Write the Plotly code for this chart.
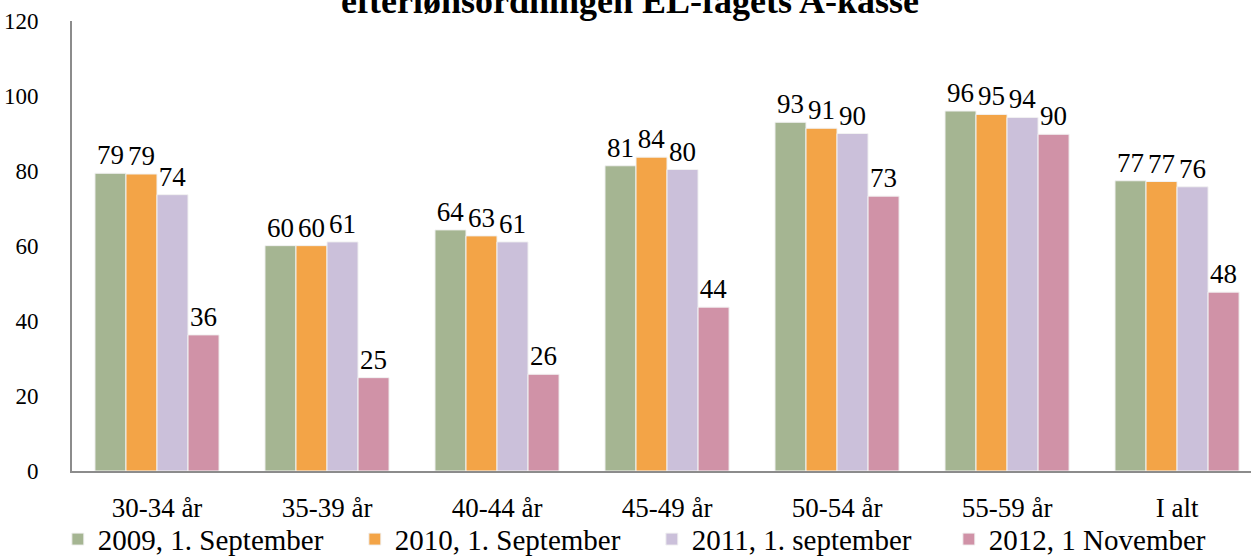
import plotly.graph_objects as go

categories = ["30-34 år", "35-39 år", "40-44 år", "45-49 år", "50-54 år", "55-59 år", "I alt"]
series_names = ["2009, 1. September", "2010, 1. September", "2011, 1. september", "2012, 1 November"]
s2009 = [79.4, 60.1, 64.3, 81.4, 93.0, 96.0, 77.4]
s2010 = [79.2, 60.1, 62.7, 83.7, 91.4, 95.1, 77.2]
s2011 = [73.7, 61.1, 61.1, 80.4, 90.0, 94.3, 75.8]
s2012 = [36.3, 24.9, 25.8, 43.7, 73.3, 89.8, 47.7]
colors = ["#A5B592", "#F3A447", "#CBC0DA", "#D092A7"]
y_ticks = [0, 20, 40, 60, 80, 100, 120]
title_text = "efterlønsordningen EL-fagets A-kasse"

FONT = "Liberation Serif, Times New Roman, serif"

fig = go.Figure()
for name, vals, col in zip(series_names, [s2009, s2010, s2011, s2012], colors):
    fig.add_trace(go.Bar(
        x=categories, y=vals, name=name,
        marker=dict(color=col, line=dict(color="#F2F2F2", width=1)),
        text=[f"{v:.0f}" for v in vals], textposition="outside",
        textfont=dict(family=FONT, size=27, color="black"),
        constraintext="none", cliponaxis=False,
    ))

fig.update_layout(
    width=1251, height=556,
    margin=dict(l=72, r=0, t=21, b=85, autoexpand=False),
    paper_bgcolor="white", plot_bgcolor="white",
    barmode="group", bargap=0.27, bargroupgap=0,
    font=dict(family=FONT, color="black"),
    showlegend=True,
    legend=dict(orientation="h", x=-0.012, xanchor="left", y=-0.095, yanchor="top",
                font=dict(family=FONT, size=29, color="black"),
                traceorder="normal", itemclick=False, entrywidth=252,
                bgcolor="rgba(0,0,0,0)"),
    xaxis=dict(range=[-0.5, 6.435], showline=True, linecolor="#8C8C8C", linewidth=2,
               showgrid=False, ticks="", tickfont=dict(family=FONT, size=27, color="black"),
               ticklabelstandoff=12, automargin=False),
    yaxis=dict(range=[0, 120], tickvals=y_ticks, showline=True, linecolor="#8C8C8C", linewidth=2,
               showgrid=False, zeroline=False, ticks="",
               tickfont=dict(family=FONT, size=23, color="black"), ticklabelstandoff=27,
               automargin=False),
    annotations=[dict(text="<b>" + title_text + "</b>", xref="paper", yref="paper",
                      x=0.473, y=1.0, xanchor="center", yanchor="bottom", yshift=-2,
                      showarrow=False, font=dict(family=FONT, size=36, color="black"))],
)

fig.write_html("out.html", config={"displayModeBar": False},
               post_script="document.body.style.margin='0';document.body.style.overflow='hidden';")
